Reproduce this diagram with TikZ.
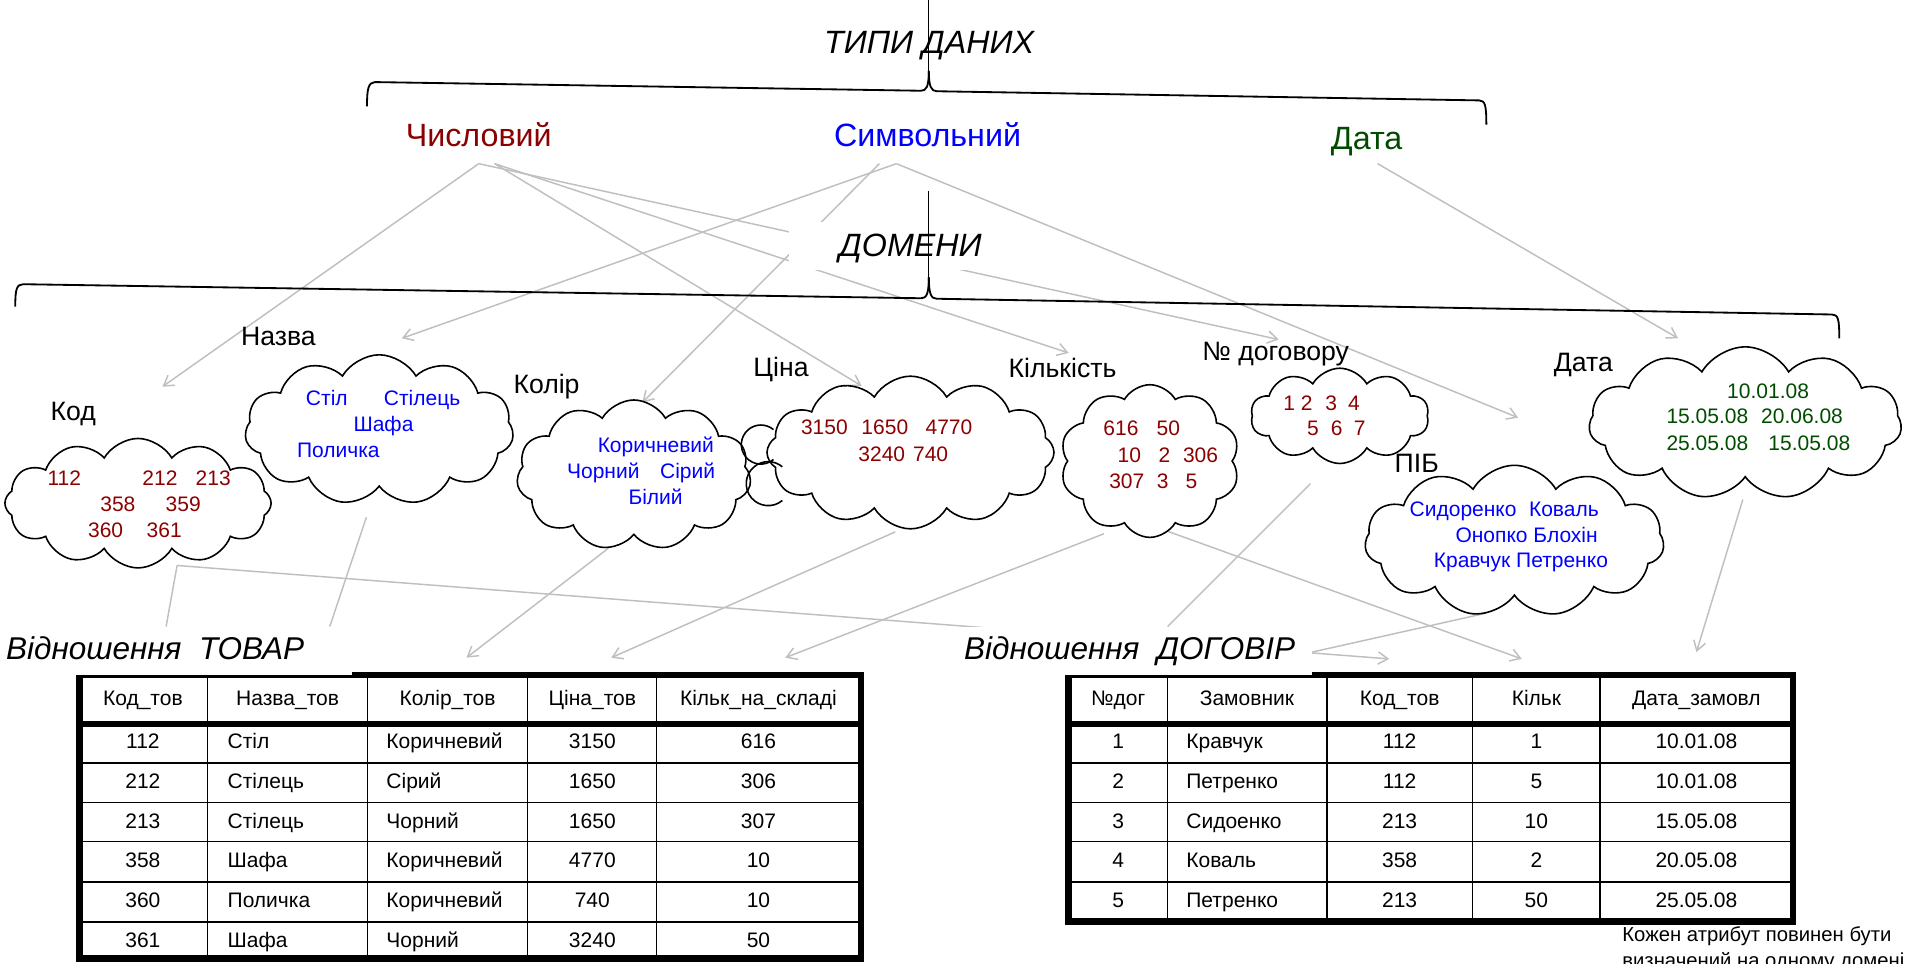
\documentclass[tikz,border=0pt]{standalone}
\usepackage{fontspec}
\setmainfont{Liberation Sans}
\usetikzlibrary{shapes.symbols,arrows.meta}
\definecolor{dred}{RGB}{139,0,0}
\definecolor{dblue}{RGB}{0,0,255}
\definecolor{dgreen}{RGB}{0,75,0}
\definecolor{lgray}{RGB}{191,191,191}
\newcommand{\mysz}[1]{\fontsize{#1}{#1}\selectfont}
\begin{document}
\begin{tikzpicture}[x=0.5pt,y=-0.5pt,
  txt/.style={inner sep=0pt, anchor=base},
  typef/.style={txt, font=\mysz{13.2}},
  titf/.style={txt, font=\mysz{13.2}\itshape},
  doml/.style={txt, font=\mysz{10.9}},
  cv/.style={txt, font=\mysz{8.6}},
  tbl/.style={txt, font=\mysz{8.6}},
  tbll/.style={tbl, anchor=base west},
  rel/.style={txt, anchor=base west, font=\mysz{12.9}\itshape},
  foot/.style={txt, anchor=base west, font=\mysz{8.3}},
  cl/.style={cloud, draw=black, line width=0.65pt, cloud ignores aspect, cloud puff arc=120, inner sep=0pt, outer sep=0pt},
  cloudline/.style={draw=black, line width=0.65pt},
  gline/.style={draw=lgray, line width=0.6pt},
  garrow/.style={gline, -{Straight Barb[length=4pt,width=5pt]}},
  brace/.style={draw=black, line width=0.75pt, line join=round},
  vline/.style={draw=black, line width=0.5pt},
  tframe/.style={draw=black, line width=2.7pt},
  tsep/.style={draw=black, line width=2.5pt},
  tin/.style={draw=black, line width=0.7pt},
]
\useasboundingbox (0,0) rectangle (1568,788.5);

% ---------- connector end points ----------
\coordinate (chA) at (392,134);
\coordinate (chB) at (405,134);
\coordinate (syA) at (734,134);
\coordinate (syB) at (720,134);
\coordinate (daA) at (1128,134);
\coordinate (kodT) at (133,316.6);
\coordinate (cinT) at (705.5,316);
\coordinate (kilT) at (875,289);
\coordinate (numT) at (1047,278);
\coordinate (nazT) at (329,277);
\coordinate (kolT) at (526,329.5);
\coordinate (pibT) at (1243,342);
\coordinate (datT) at (1374,277);
\coordinate (kodS) at (145,463);
\coordinate (tovK) at (136,513);
\coordinate (dogK) at (1137.5,539.5);
\coordinate (nazS) at (300,423.5);
\coordinate (tovN) at (270,513);
\coordinate (kolS) at (498,449);
\coordinate (tovC) at (382,538.5);
\coordinate (cinS) at (733,435.5);
\coordinate (tovP) at (500.5,538.5);
\coordinate (kilS1) at (904,437);
\coordinate (tovQ) at (643,538.5);
\coordinate (kilS2) at (956,435);
\coordinate (dogQ) at (1246,539.5);
\coordinate (numS) at (1073,396);
\coordinate (dogL) at (956,513);
\coordinate (pibS) at (1217,502);
\coordinate (dogP) at (1074,534);
\coordinate (datS) at (1427,409);
\coordinate (dogD) at (1389,534);

% ---------- grey connectors ----------
\draw[garrow] (chA) -- (kodT);
\draw[garrow] (chB) -- (cinT);
\draw[garrow] (chB) -- (kilT);
\draw[garrow] (chA) -- (numT);
\draw[garrow] (syA) -- (nazT);
\draw[garrow] (syB) -- (kolT);
\draw[garrow] (syA) -- (pibT);
\draw[garrow] (daA) -- (datT);
\draw[gline] (kodS) -- (tovK);
\draw[garrow] (kodS) -- (dogK);
\draw[gline] (nazS) -- (tovN);
\draw[garrow] (kolS) -- (tovC);
\draw[garrow] (cinS) -- (tovP);
\draw[garrow] (kilS1) -- (tovQ);
\draw[garrow] (kilS2) -- (dogQ);
\draw[gline] (numS) -- (dogL);
\draw[gline] (pibS) -- (dogP);
\draw[garrow] (datS) -- (dogD);

% ---------- clouds ----------
\node[cl, cloud puffs=12, minimum width=109pt, minimum height=53pt] (cKod) at (113,412) {};
\node[cl, cloud puffs=11, minimum width=110pt, minimum height=61.5pt] (cNaz) at (310.5,352) {};
\node[cl, cloud puffs=11, minimum width=96pt, minimum height=61.5pt] (cKol) at (519,389) {};
\node[cl, cloud puffs=12, minimum width=117.5pt, minimum height=62.5pt] (cCin) at (745.5,370.5) {};
\draw[cloudline] (cCin.west) ++(-5,-6.5) ++(50:16) arc[start angle=50, end angle=310, radius=16];
\draw[cloudline] (cCin.west) ++(1,25.5) ++(50:18) arc[start angle=50, end angle=310, radius=18];
\node[cl, cloud puffs=10, minimum width=73.5pt, minimum height=62.5pt] (cKil) at (941.5,377.5) {};
\node[cl, cloud puffs=10, minimum width=73pt, minimum height=39pt] (cNum) at (1097,340.5) {};
\node[cl, cloud puffs=11, minimum width=122.5pt, minimum height=62pt] (cPib) at (1240,443) {};
\node[cl, cloud puffs=11, minimum width=128pt, minimum height=62.5pt] (cDat) at (1429,346.5) {};

% ---------- table TOVAR ----------
\foreach \x in {170,301,432,537.5} \draw[tin] (\x,552.7) -- (\x,785);
\foreach \y in {624.5,657,689,722,755} \draw[tin] (65,\y) -- (705,\y);
\draw[tsep] (65,593) -- (705,593);
\draw[tframe] (65,552.7) rectangle (705,785);

% ---------- table DOGOVIR ----------
\foreach \x in {956,1086.6,1205.7,1310} \draw[tin] (\x,552.7) -- (\x,754.5);
\foreach \y in {624.5,657,689,722} \draw[tin] (875,\y) -- (1468,\y);
\draw[tsep] (875,593) -- (1468,593);
\draw[tframe] (875,552.7) rectangle (1468,754.5);

% ---------- white label boxes ----------
\fill[white] (0,513) rectangle (288,552.7);
\fill[white] (785,513) rectangle (1074,552.7);
\fill[white] (646,182) rectangle (805,221);

% ---------- braces ----------
\draw[brace] (300.5,87) .. controls (300.5,73) and (301.5,67.4) .. (307,67.2) -- (754,74.3) .. controls (758.5,74.4) and (760.5,71) .. (760.5,58);
\draw[brace] (760.5,58) .. controls (760.5,71) and (762.5,74.6) .. (767,74.7) -- (1211,82.2) .. controls (1216,82.3) and (1217,86) .. (1217,102);
\draw[vline] (760.5,58) -- (760.5,0);
\draw[brace] (12.5,251) .. controls (12.5,237) and (13.5,232.8) .. (19,232.7) -- (754,244.2) .. controls (758.5,244.3) and (760.5,241) .. (760.5,227);
\draw[brace] (760.5,227) .. controls (760.5,241) and (762.5,244.5) .. (767,244.6) -- (1500,257.5) .. controls (1505,257.6) and (1506,261) .. (1506,277);
\draw[vline] (760.5,227) -- (760.5,156);

% ---------- titles and types ----------
\node[titf] (tipy) at (760.8,44) {ТИПИ ДАНИХ};
\node[typef, text=dred] (chisl) at (392,120) {Числовий};
\node[typef, text=dblue] (symv) at (759.5,120) {Символьний};
\node[typef, text=dgreen] (dtype) at (1119,122) {Дата};
\node[titf] (domeny) at (745.5,210) {ДОМЕНИ};

% ---------- domain labels ----------
\node[doml] (lKod) at (60,344) {Код};
\node[doml] (lNaz) at (228,283) {Назва};
\node[doml] (lKol) at (447.5,322) {Колір};
\node[doml] (lCin) at (639.5,308) {Ціна};
\node[doml] (lKil) at (870,309) {Кількість};
\node[doml] (lNum) at (1044.5,295) {№ договору};
\node[doml] (lDat) at (1296.5,304) {Дата};
\node[doml] (lPib) at (1160,387) {ПІБ};

% ---------- cloud contents ----------
\begin{scope}[every node/.append style={cv, text=dred}]
\node (k1) at (52.7,397.6) {112};
\node (k2) at (131,397.6) {212};
\node (k3) at (174.6,397.6) {213};
\node (k4) at (96.5,418.8) {358};
\node (k5) at (150,418.8) {359};
\node (k6) at (86.5,440) {360};
\node (k7) at (134.5,440) {361};
\node (p1) at (675,356) {3150};
\node (p2) at (724.5,356) {1650};
\node (p3) at (777,356) {4770};
\node (p4) at (722,377.7) {3240};
\node (p5) at (762,377.7) {740};
\node (q1) at (917.8,356.6) {616};
\node (q2) at (956.6,356.6) {50};
\node (q3) at (924.7,378.5) {10};
\node (q4) at (953.4,378.5) {2};
\node (q5) at (983,378.5) {306};
\node (q6) at (922.6,400) {307};
\node (q7) at (952,400) {3};
\node (q8) at (975.6,400) {5};
\node (n1) at (1055.6,336) {1};
\node (n2) at (1070,336) {2};
\node (n3) at (1090,336) {3};
\node (n4) at (1108.6,336) {4};
\node (n5) at (1075,356.7) {5};
\node (n6) at (1094.5,356.7) {6};
\node (n7) at (1113.4,356.7) {7};
\end{scope}
\begin{scope}[every node/.append style={cv, text=dblue}]
\node (a1) at (267.6,332) {Стіл};
\node (a2) at (345.6,332) {Стілець};
\node (a3) at (314,353) {Шафа};
\node (a4) at (277,374.5) {Поличка};
\node (b1) at (537,370.4) {Коричневий};
\node (b2) at (494,392) {Чорний};
\node (b3) at (563,392) {Сірий};
\node (b4) at (536.8,412.7) {Білий};
\node (f1) at (1198,422.8) {Сидоренко};
\node (f2) at (1280.5,422.8) {Коваль};
\node (f3) at (1250,444) {Онопко Блохін};
\node (f4) at (1245.3,465) {Кравчук Петренко};
\end{scope}
\begin{scope}[every node/.append style={cv, text=dgreen}]
\node (d1) at (1447.7,326) {10.01.08};
\node (d2) at (1398,347) {15.05.08};
\node (d3) at (1475.5,347) {20.06.08};
\node (d4) at (1398,368.5) {25.05.08};
\node (d5) at (1481.5,368.5) {15.05.08};
\end{scope}

% ---------- relation titles ----------
\node[rel] (relT) at (4.6,540) {Відношення\ \ ТОВАР};
\node[rel] (relD) at (789,540) {Відношення\ \ ДОГОВІР};

% ---------- TOVAR text ----------
\node[tbl] (th1) at (117,577.6) {Код\_тов};
\node[tbl] (th2) at (235.5,577.6) {Назва\_тов};
\node[tbl] (th3) at (366.5,577.6) {Колір\_тов};
\node[tbl] (th4) at (485,577.6) {Ціна\_тов};
\node[tbl] (th5) at (621,577.6) {Кільк\_на\_складі};
\foreach \a/\b/\c/\d/\e/\y [count=\i] in {112/Стіл/Коричневий/3150/616/612.6, 212/Стілець/Сірий/1650/306/646, 213/Стілець/Чорний/1650/307/678, 358/Шафа/Коричневий/4770/10/710, 360/Поличка/Коричневий/740/10/743, 361/Шафа/Чорний/3240/50/776}{
  \node[tbl] (ta\i) at (117,\y) {\a};
  \node[tbll] (tb\i) at (186,\y) {\b};
  \node[tbll] (tc\i) at (316,\y) {\c};
  \node[tbl] (td\i) at (485,\y) {\d};
  \node[tbl] (te\i) at (621,\y) {\e};
}

% ---------- DOGOVIR text ----------
\node[tbl] (dh1) at (915.5,577.6) {№дог};
\node[tbl] (dh2) at (1021,577.6) {Замовник};
\node[tbl] (dh3) at (1146,577.6) {Код\_тов};
\node[tbl] (dh4) at (1258,577.6) {Кільк};
\node[tbl] (dh5) at (1389,577.6) {Дата\_замовл};
\foreach \a/\b/\c/\d/\e/\y [count=\i] in {1/Кравчук/112/1/10.01.08/612.6, 2/Петренко/112/5/10.01.08/646, 3/Сидоенко/213/10/15.05.08/678, 4/Коваль/358/2/20.05.08/710, 5/Петренко/213/50/25.05.08/743}{
  \node[tbl] (da\i) at (915.5,\y) {\a};
  \node[tbll] (db\i) at (971,\y) {\b};
  \node[tbl] (dc\i) at (1146,\y) {\c};
  \node[tbl] (dd\i) at (1258,\y) {\d};
  \node[tbl] (de\i) at (1389,\y) {\e};
}

% ---------- footnote ----------
\node[foot] (ft1) at (1328,770.5) {Кожен атрибут повинен бути};
\node[foot] (ft2) at (1328,792.5) {визначений на одному домені};
\end{tikzpicture}
\end{document}
